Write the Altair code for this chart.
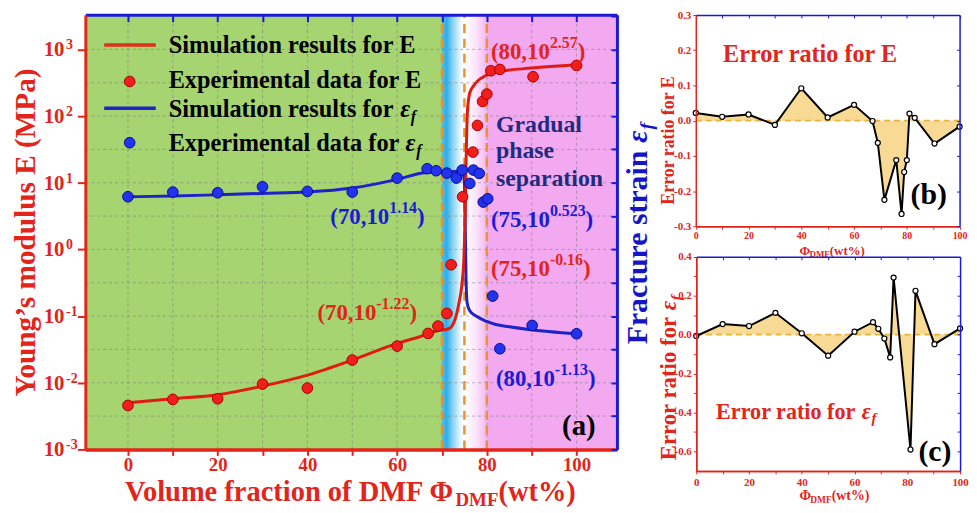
import altair as alt
import pandas as pd

# ======================= DATA =======================
# (a) main panel: x = DMF fraction (wt%), y values given as log10 exponents
sim_E_x = [0, 10, 20, 30, 40, 50, 60, 65, 69, 71.5, 72.9, 73.8, 74.4, 74.9, 75.2, 75.4,
           75.7, 76.2, 77, 78, 79, 82, 90, 100]
sim_E_exp = [-2.30, -2.24, -2.18, -2.05, -1.885, -1.66, -1.41, -1.31, -1.22, -1.19, -1.05,
             -0.80, -0.55, -0.10, 0.60, 1.40, 2.10, 2.35, 2.45, 2.53, 2.58, 2.66, 2.72, 2.77]
exp_E_x = [0, 10, 20, 30, 40, 50, 60, 66.9, 69.1, 71.1, 72.05, 74.6, 76.9, 77.9, 79.05,
           80.0, 80.9, 82.9, 90.3, 100]
exp_E_exp = [-2.34, -2.25, -2.24, -2.02, -2.08, -1.66, -1.45, -1.26, -1.15, -0.96, -0.23,
             0.79, 1.46, 1.86, 2.22, 2.33, 2.68, 2.70, 2.59, 2.76]
sim_ef_x = [0, 10, 20, 30, 40, 50, 60, 66, 70, 73, 74.5, 75.0, 75.2, 75.35, 75.6, 76.2,
            77.6, 80, 82, 85, 89.3, 100]
sim_ef_exp = [0.79, 0.80, 0.82, 0.84, 0.86, 0.92, 1.05, 1.15, 1.165, 1.17, 1.16, 1.0, 0.3,
              -0.4, -0.8, -0.92, -1.0, -1.08, -1.127, -1.16, -1.2, -1.265]
exp_ef_x = [0, 10, 20, 30, 40, 50, 60, 66.7, 68.7, 71.1, 73.2, 74.5, 76.2, 77.0, 78.3,
            79.2, 80.2, 81.3, 82.9, 90.1, 100]
exp_ef_exp = [0.79, 0.86, 0.85, 0.94, 0.87, 0.86, 1.07, 1.21, 1.18, 1.145, 1.07, 1.19,
              0.99, 1.19, 1.14, 0.71, 0.76, -0.70, -1.49, -1.14, -1.265]

phase_x = [70, 75, 80]
grid_x = [0, 10, 20, 30, 40, 50, 60, 70, 80, 90, 100]
grid_y_exp = [-2.5, -2, -1.5, -1, -0.5, 0, 0.5, 1, 1.5, 2, 2.5, 3]
left_tick_exp = [-3, -2, -1, 0, 1, 2, 3]
right_tick_exp = [-3, -2.5, -2, -1.5, -1, -0.5, 0, 0.5, 1, 1.5, 2, 2.5, 3, 3.5]
x_ticks = [0, 10, 20, 30, 40, 50, 60, 70, 80, 90, 100]
x_labels = [0, 20, 40, 60, 80, 100]
x_minor = [10, 30, 50, 70, 90]

# (b) error ratio for E
errE_x = [0, 10, 20, 30, 40, 50, 60, 67, 69, 71.5, 76, 78, 79, 80, 81, 83, 90.5, 100]
errE_y = [0.022, 0.011, 0.0175, -0.012, 0.092, 0.009, 0.045, -0.001, -0.063, -0.225,
          -0.112, -0.265, -0.146, -0.112, 0.02, 0.008, -0.065, -0.017]
errE_ticks = [-0.3, -0.2, -0.1, 0.0, 0.1, 0.2, 0.3]
errE_minor = []

# (c) error ratio for eps_f
errF_x = [0, 10, 20, 30, 40, 50, 60, 67, 69, 71.3, 73.5, 74.8, 81.2, 83.1, 90.3, 100]
errF_y = [-0.007, 0.054, 0.044, 0.112, 0.007, -0.108, 0.015, 0.064, 0.030, -0.020,
          -0.117, 0.293, -0.590, 0.225, -0.049, 0.032]
errF_ticks = [-0.6, -0.4, -0.2, 0.0, 0.2, 0.4]
errF_minor = [-0.5, -0.3, -0.1, 0.1, 0.3]

# ======================= STYLE =======================
FONT = "Liberation Serif"
RED = "#e3241b"
BLUE = "#1b1bd6"
NAVY = "#1f2b7f"
GREEN = "#a5d470"
PINK = "#f2a9f0"
FILL = "#f7d68a"
W, H = 969, 503


def vx(p):
    return p - 8


def vy(p):
    return p - 8


ONE = pd.DataFrame({"a": [1]})

TW = {' ': 250, '(': 333, ')': 333, ',': 250, '.': 250, '-': 333, '%': 1000, '\u2019': 333,
      'A': 722, 'B': 667, 'C': 722, 'D': 722, 'E': 667, 'F': 611, 'G': 778, 'H': 778,
      'I': 389, 'J': 500, 'K': 778, 'L': 667, 'M': 944, 'N': 722, 'O': 778, 'P': 611,
      'Q': 778, 'R': 722, 'S': 556, 'T': 667, 'U': 722, 'V': 722, 'W': 1000, 'X': 722,
      'Y': 722, 'Z': 667, 'a': 500, 'b': 556, 'c': 444, 'd': 556, 'e': 444, 'f': 333,
      'g': 500, 'h': 556, 'i': 278, 'j': 333, 'k': 556, 'l': 278, 'm': 833, 'n': 556,
      'o': 500, 'p': 556, 'q': 556, 'r': 444, 's': 389, 't': 333, 'u': 556, 'v': 500,
      'w': 722, 'x': 500, 'y': 500, 'z': 444, '\u03a6': 780, '\u03b5': 440}


def tw(s, size):
    return sum(TW.get(c, 500) for c in s) * size / 1000.0


def rich(x, y, runs, color, angle=0):
    out = []
    adv = 0.0
    for text, size, shift, italic in runs:
        out.append(
            alt.Chart(ONE).mark_text(
                text=text, font=FONT, fontSize=size, fontWeight="bold",
                fontStyle="italic" if italic else "normal", color=color,
                align="left", baseline="alphabetic", angle=angle, dx=adv, dy=shift
            ).encode(x=alt.value(vx(x)), y=alt.value(vy(y)))
        )
        adv += tw(text, size)
    return out


def axis_only(channel, scale, v0, **kw):
    ax = alt.Axis(grid=False, title=None, zindex=1, labelFont=FONT, labelFontWeight="bold",
                  labelOverlap=False, labelFlush=False, **kw)
    if channel == "x":
        enc = {"x": alt.X("v:Q", scale=scale, axis=ax)}
    else:
        enc = {"y": alt.Y("v:Q", scale=scale, axis=ax)}
    return alt.Chart(pd.DataFrame({"v": [v0]})).mark_point(opacity=0).encode(**enc)


# ======================= (a) MAIN PANEL =======================
X_LO, X_HI = -9.5, 109
Y_LO, Y_HI = 1e-3, 10 ** 3.52


def sxa():
    return alt.Scale(domain=[X_LO, X_HI], range=[vx(86), vx(622)], nice=False, zero=False)


def sya():
    return alt.Scale(type="log", domain=[Y_LO, Y_HI], range=[vy(451), vy(12.7)], nice=False)


def XA(f):
    return alt.X(f, type="quantitative", scale=sxa(), axis=None)


def YA(f):
    return alt.Y(f, type="quantitative", scale=sya(), axis=None)


bg_solid = alt.Chart(pd.DataFrame({"x0": [X_LO, 80], "x1": [70, X_HI], "y0": [Y_LO] * 2,
                                   "y1": [Y_HI] * 2, "c": [GREEN, PINK]})).mark_rect().encode(
    x=XA("x0"), x2="x1:Q", y=YA("y0"), y2="y1:Q", color=alt.Color("c:N", scale=None))

blue_grad = {"gradient": "linear", "x1": 0, "x2": 1, "y1": 0, "y2": 0,
             "stops": [{"offset": 0, "color": "#58bee9"}, {"offset": 0.2, "color": "#2eaee6"},
                       {"offset": 0.5, "color": "#8fd5f2"}, {"offset": 0.85, "color": "#f0f9fe"},
                       {"offset": 1, "color": "#ffffff"}]}
pink_grad = {"gradient": "linear", "x1": 0, "x2": 1, "y1": 0, "y2": 0,
             "stops": [{"offset": 0, "color": "#ffffff"}, {"offset": 0.5, "color": "#fce6fb"},
                       {"offset": 1, "color": "#f4b4f2"}]}
bg_blue = alt.Chart(pd.DataFrame({"x0": [70], "x1": [75], "y0": [Y_LO], "y1": [Y_HI]})).mark_rect(
    fill=blue_grad).encode(x=XA("x0"), x2="x1:Q", y=YA("y0"), y2="y1:Q")
bg_pink = alt.Chart(pd.DataFrame({"x0": [75], "x1": [80], "y0": [Y_LO], "y1": [Y_HI]})).mark_rect(
    fill=pink_grad).encode(x=XA("x0"), x2="x1:Q", y=YA("y0"), y2="y1:Q")

grid_v = alt.Chart(pd.DataFrame({"x": grid_x, "y0": [Y_LO] * len(grid_x),
                                 "y1": [Y_HI] * len(grid_x)})).mark_rule(
    color="#7d7d7d", strokeDash=[3, 3], strokeWidth=0.8, opacity=0.7).encode(
    x=XA("x"), y=YA("y0"), y2="y1:Q")
grid_h = alt.Chart(pd.DataFrame({"y": [10 ** e for e in grid_y_exp], "x0": [X_LO] * len(grid_y_exp),
                                 "x1": [X_HI] * len(grid_y_exp)})).mark_rule(
    color="#7d7d7d", strokeDash=[3, 3], strokeWidth=0.8, opacity=0.7).encode(
    y=YA("y"), x=XA("x0"), x2="x1:Q")
phase = alt.Chart(pd.DataFrame({"x": phase_x, "y0": [Y_LO] * 3, "y1": [Y_HI] * 3})).mark_rule(
    color="#e8932f", strokeWidth=2.5, strokeDash=[9, 6]).encode(x=XA("x"), y=YA("y0"), y2="y1:Q")

line_ef = alt.Chart(pd.DataFrame({"x": sim_ef_x, "y": [10 ** e for e in sim_ef_exp]})).mark_line(
    color="#1e22c8", strokeWidth=3, interpolate="monotone").encode(x=XA("x"), y=YA("y"))
line_E = alt.Chart(pd.DataFrame({"x": sim_E_x, "y": [10 ** e for e in sim_E_exp]})).mark_line(
    color="#e01b10", strokeWidth=3, interpolate="monotone").encode(x=XA("x"), y=YA("y"))
pts_E = alt.Chart(pd.DataFrame({"x": exp_E_x, "y": [10 ** e for e in exp_E_exp]})).mark_circle(
    size=115, fill="#f21d1d", stroke="#a80000", strokeWidth=1, opacity=1).encode(x=XA("x"), y=YA("y"))
pts_ef = alt.Chart(pd.DataFrame({"x": exp_ef_x, "y": [10 ** e for e in exp_ef_exp]})).mark_circle(
    size=115, fill="#2233ee", stroke="#0a0a90", strokeWidth=1, opacity=1).encode(x=XA("x"), y=YA("y"))

ylab_df = pd.DataFrame({"y": [10 ** e for e in left_tick_exp], "base": ["10"] * len(left_tick_exp),
                        "sup": [str(e) for e in left_tick_exp]})
lab10 = alt.Chart(ylab_df).mark_text(font=FONT, fontWeight="bold", fontSize=21, color=RED,
                                     align="left", baseline="alphabetic", dy=7).encode(
    x=alt.value(vx(44)), y=YA("y"), text="base:N")
labsup = alt.Chart(ylab_df).mark_text(font=FONT, fontWeight="bold", fontSize=14, color=RED,
                                      align="left", baseline="alphabetic", dy=0).encode(
    x=alt.value(vx(66.5)), y=YA("y"), text="sup:N")

main = alt.layer(bg_solid, bg_blue, bg_pink, grid_v, grid_h, phase, line_ef, line_E,
                 pts_E, pts_ef, lab10, labsup)

main_axes = [
    axis_only("x", sxa(), 0, orient="bottom", offset=vy(451) - H, values=x_labels,
              domainColor=RED, domainWidth=3, tickColor=RED, tickWidth=2, tickSize=6,
              labelFontSize=19, labelColor=RED, labelPadding=0),
    axis_only("x", sxa(), 0, orient="bottom", offset=vy(451) - H, values=x_minor, labels=False,
              domainColor=RED, domainWidth=3, tickColor=RED, tickWidth=2, tickSize=6),
    axis_only("y", sya(), 1, orient="left", offset=-vx(86), values=[10 ** e for e in left_tick_exp],
              labels=False, domainColor=RED, domainWidth=3, tickColor=RED, tickWidth=2, tickSize=8),
    axis_only("y", sya(), 1, orient="left", offset=-vx(622), values=[10 ** e for e in right_tick_exp],
              labels=False, domainColor=BLUE, domainWidth=3, tickColor=BLUE, tickWidth=2, tickSize=6),
    axis_only("x", sxa(), 0, orient="bottom", offset=vy(12.7) - H, values=x_ticks, labels=False,
              domainColor=BLUE, domainWidth=3, tickColor=BLUE, tickWidth=2, tickSize=7),
]

# ======================= (b) and (c) PANELS =======================
NUMFMT = "(datum.value < -0.001 ? '-' : '') + format(abs(datum.value), '.1f')"


def panel(xs, ys, x_rng, y_dom, y_rng, ticks, minor, xlab_size, xlab_pad):
    def sx():
        return alt.Scale(domain=[0, 100], range=x_rng, nice=False, zero=False)

    def sy():
        return alt.Scale(domain=y_dom, range=y_rng, nice=False, zero=False)

    d = pd.DataFrame({"x": xs, "y": ys})
    X = alt.X("x:Q", scale=sx(), axis=None)
    Y = alt.Y("y:Q", scale=sy(), axis=None)
    area = alt.Chart(d).mark_area(color=FILL, opacity=0.9).encode(x=X, y=Y, y2=alt.datum(0))
    zero = alt.Chart(pd.DataFrame({"x0": [0], "x1": [100], "y": [0]})).mark_rule(
        color="#e6b53a", strokeDash=[6, 4], strokeWidth=1.6).encode(
        x=alt.X("x0:Q", scale=sx(), axis=None), x2="x1:Q", y=alt.Y("y:Q", scale=sy(), axis=None))
    line = alt.Chart(d).mark_line(color="black", strokeWidth=2).encode(x=X, y=Y)
    pts = alt.Chart(d).mark_circle(size=26, fill="white", stroke="black", strokeWidth=1.2,
                                   opacity=1).encode(x=X, y=Y)
    body = alt.layer(area, zero, line, pts)
    common = dict(domainWidth=1.5, tickWidth=1, tickSize=3)
    axes = [
        axis_only("x", sx(), 0, orient="bottom", offset=y_rng[0] - H, values=x_labels,
                  domainColor=RED, tickColor=RED, labelFontSize=xlab_size, labelColor=RED,
                  labelPadding=xlab_pad, **common),
        axis_only("x", sx(), 0, orient="bottom", offset=y_rng[0] - H, values=x_minor,
                  labels=False, domainColor=RED, tickColor=RED, **common),
        axis_only("y", sy(), 0, orient="left", offset=-x_rng[0], values=ticks,
                  labelExpr=NUMFMT, domainColor=RED, tickColor=RED, labelFontSize=11,
                  labelColor=RED, labelPadding=2, **common),
        axis_only("x", sx(), 0, orient="bottom", offset=y_rng[1] - H, values=x_ticks,
                  labels=False, domainColor=BLUE, tickColor=BLUE, **common),
        axis_only("y", sy(), 0, orient="left", offset=-x_rng[1], values=ticks + minor,
                  labels=False, domainColor=BLUE, tickColor=BLUE, **common),
    ]
    if minor:
        axes.append(axis_only("y", sy(), 0, orient="left", offset=-x_rng[0], values=minor,
                              labels=False, domainColor=RED, tickColor=RED, **common))
    return body, axes


body_b, axes_b = panel(errE_x, errE_y, [vx(701.5), vx(967.5)], [-0.3, 0.3], [vy(226), vy(13)],
                       errE_ticks, errE_minor, 10, 1)
body_c, axes_c = panel(errF_x, errF_y, [vx(702), vx(968)], [-0.7, 0.4], [vy(472.7), vy(256.7)],
                       errF_ticks, errF_minor, 11, 3)

# ======================= TEXT =======================
texts = []


def ann(x, y, base, sup, color):
    return rich(x, y, [(base, 23, 0, False), (sup, 16, -11, False), (")", 23, 0, False)], color)


texts += ann(495, 57, "(80,10", "2.57", RED)
texts += ann(495, 226.7, "(75,10", "0.523", BLUE)
texts += ann(333, 224, "(70,10", "1.14", BLUE)
texts += ann(495, 276, "(75,10", "-0.16", RED)
texts += ann(320, 320, "(70,10", "-1.22", RED)
texts += ann(500, 387, "(80,10", "-1.13", BLUE)
texts += rich(500, 131, [("Gradual", 24, 0, False)], NAVY)
texts += rich(500, 157, [("phase", 24, 0, False)], NAVY)
texts += rich(500, 185, [("separation", 24, 0, False)], NAVY)
texts += rich(566.7, 436, [("(a)", 29, 0, False)], "black")

# legend
leg_lines = [
    alt.Chart(ONE).mark_rule(color="#e0301e", strokeWidth=3.5).encode(
        x=alt.value(vx(105)), x2=alt.value(vx(157)), y=alt.value(vy(43.3))),
    alt.Chart(ONE).mark_rule(color="#1e22c8", strokeWidth=3.5).encode(
        x=alt.value(vx(105)), x2=alt.value(vx(157)), y=alt.value(vy(107))),
    alt.Chart(ONE).mark_circle(size=115, fill="#f21d1d", stroke="#a80000", strokeWidth=1,
                               opacity=1).encode(x=alt.value(vx(130.7)), y=alt.value(vy(80))),
    alt.Chart(ONE).mark_circle(size=115, fill="#2233ee", stroke="#0a0a90", strokeWidth=1,
                               opacity=1).encode(x=alt.value(vx(130.7)), y=alt.value(vy(141.7))),
]
LS = 24.5
texts += rich(170, 51.5, [("Simulation results for E", LS, 0, False)], "black")
texts += rich(170, 86.5, [("Experimental data for E", LS, 0, False)], "black")
texts += rich(170, 115.5, [("Simulation results for ", LS, 0, False), ("\u03b5", LS, 0, True),
                           ("f", 16, 5, True)], "black")
texts += rich(170, 150, [("Experimental data for ", LS, 0, False), ("\u03b5", LS, 0, True),
                         ("f", 16, 5, True)], "black")

# axis titles of (a)
yt = "Young\u2019s modulus E (MPa)"
texts += rich(35, 230 + tw(yt, 29.5) / 2, [(yt, 29.5, 0, False)], RED, angle=270)
texts += rich(652, 345, [("Fracture strain ", 30, 0, False), ("\u03b5", 30, 0, True),
                         ("f", 20, 6, True)], "#1515c8", angle=270)
texts += rich(126, 503, [("Volume fraction of DMF \u03a6", 28.7, 0, False), ("DMF", 19, 5, False),
                         ("(wt%)", 28.7, 0, False)], RED)

# panel texts
texts += rich(729, 60, [("Error ratio for E", 24.4, 0, False)], RED)
texts += rich(918, 204, [("(b)", 30, 0, False)], "black")
texts += rich(722, 420, [("Error ratio for ", 22.3, 0, False), ("\u03b5", 22.3, 0, True),
                         ("f", 15, 4.5, True)], RED)
texts += rich(926, 463, [("(c)", 30, 0, False)], "black")
bt = "Error ratio for E"
texts += rich(680, 139 + tw(bt, 18) / 2, [(bt, 18, 0, False)], RED, angle=270)
texts += rich(682, 462, [("Error ratio for ", 23, 0, False), ("\u03b5", 23, 0, True),
                         ("f", 15, 5, True)], RED, angle=270)
texts += rich(806, 254.5, [("\u03a6", 13, 0, False), ("DMF", 9, 2.5, False),
                           ("(wt%)", 13, 0, False)], RED)
texts += rich(806, 501.5, [("\u03a6", 14, 0, False), ("DMF", 9.5, 3.5, False),
                           ("(wt%)", 14, 0, False)], RED)

chart = alt.layer(
    main, body_b, body_c, *main_axes, *axes_b, *axes_c, *leg_lines, *texts
).resolve_scale(x="independent", y="independent").properties(
    width=W, height=H, autosize=alt.AutoSizeParams(type="none"), padding=0
).configure_view(stroke=None)

chart.save("out.html", embed_options={"renderer": "svg", "actions": False})
